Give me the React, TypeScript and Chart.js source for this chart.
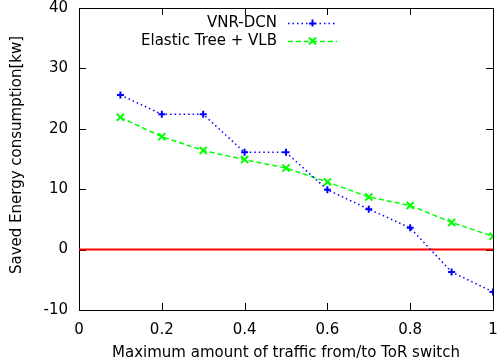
import React, { useEffect, useRef } from "react";
import { Chart, registerables } from "chart.js";

Chart.register(...registerables);

const xValues = [0.1, 0.2, 0.3, 0.4, 0.5, 0.6, 0.7, 0.8, 0.9, 1.0];
const vnrDcn = [25.6, 22.4, 22.4, 16.1, 16.1, 9.9, 6.7, 3.6, -3.7, -7.0];
const elasticTree = [21.9, 18.7, 16.4, 14.9, 13.5, 11.2, 8.7, 7.3, 4.5, 2.2];
const zeroLineX = [0, 1];
const zeroLineY = [0, 0];
const xTicks = [0, 0.2, 0.4, 0.6, 0.8, 1];
const yTicks = [-10, 0, 10, 20, 30, 40];
const seriesLabels = ["VNR-DCN", "Elastic Tree + VLB"];
const xTitle = "Maximum amount of traffic from/to ToR switch";
const yTitle = "Saved Energy consumption[kw]";

const FONT = "DejaVu Sans";
const FS = 15;

const framePlugin = {
  id: "gnuFrame",
  beforeDatasetsDraw(chart: any) {
    const ctx = chart.ctx;
    const { left, right, top, bottom } = chart.chartArea;
    const xs = chart.scales.x;
    const ys = chart.scales.y;
    const L = 7;
    ctx.save();
    ctx.strokeStyle = "#000";
    ctx.lineWidth = 1;
    ctx.beginPath();
    ctx.rect(Math.round(left) + 0.5, Math.round(top) + 0.5, Math.round(right - left), Math.round(bottom - top));
    for (const t of xTicks) {
      const px = Math.round(xs.getPixelForValue(t)) + 0.5;
      ctx.moveTo(px, bottom);
      ctx.lineTo(px, bottom - L);
      ctx.moveTo(px, top);
      ctx.lineTo(px, top + L);
    }
    for (const t of yTicks) {
      const py = Math.round(ys.getPixelForValue(t)) + 0.5;
      ctx.moveTo(left, py);
      ctx.lineTo(left + L, py);
      ctx.moveTo(right, py);
      ctx.lineTo(right - L, py);
    }
    ctx.stroke();
    ctx.restore();
  },
  afterDraw(chart: any) {
    const ctx = chart.ctx;
    const { left, right, top, bottom } = chart.chartArea;
    ctx.save();
    // titles
    ctx.fillStyle = "#000";
    ctx.font = `${FS}px "${FONT}"`;
    ctx.textAlign = "center";
    ctx.textBaseline = "middle";
    ctx.fillText(xTitle, (left + right) / 2, 353);
    ctx.save();
    ctx.translate(17, (top + bottom) / 2 - 4);
    ctx.rotate(-Math.PI / 2);
    ctx.fillText(yTitle, 0, 0);
    ctx.restore();

    // legend
    const rows = [23, 41];
    const textRight = 277;
    const sx0 = 288;
    const sx1 = 337;
    ctx.textAlign = "right";
    for (let i = 0; i < 2; i++) {
      const ds = chart.data.datasets[i];
      const y = rows[i];
      ctx.fillStyle = "#000";
      ctx.fillText(ds.label, textRight, y);
      ctx.save();
      ctx.strokeStyle = ds.borderColor;
      ctx.lineWidth = ds.borderWidth;
      ctx.setLineDash(ds.borderDash);
      ctx.beginPath();
      ctx.moveTo(sx0, y + 0.5);
      ctx.lineTo(sx1, y + 0.5);
      ctx.stroke();
      ctx.setLineDash([]);
      ctx.lineWidth = ds.pointBorderWidth;
      const mx = (sx0 + sx1) / 2;
      const r = ds.pointRadius;
      ctx.beginPath();
      if (ds.pointStyle === "cross") {
        ctx.moveTo(mx - r, y + 0.5);
        ctx.lineTo(mx + r, y + 0.5);
        ctx.moveTo(mx, y - r);
        ctx.lineTo(mx, y + r);
      } else {
        const d = r * Math.SQRT1_2;
        ctx.moveTo(mx - d, y - d);
        ctx.lineTo(mx + d, y + d);
        ctx.moveTo(mx - d, y + d);
        ctx.lineTo(mx + d, y - d);
      }
      ctx.stroke();
      ctx.restore();
    }
    ctx.restore();
  },
};

export default function App() {
  const ref = useRef<HTMLCanvasElement | null>(null);

  useEffect(() => {
    if (!ref.current) return;
    const chart = new Chart(ref.current, {
      type: "line",
      data: {
        datasets: [
          {
            label: seriesLabels[0],
            data: xValues.map((x, i) => ({ x, y: vnrDcn[i] })),
            borderColor: "#0000ff",
            backgroundColor: "#0000ff",
            borderWidth: 1.5,
            borderDash: [1.5, 3],
            pointStyle: "cross",
            pointRadius: 3.5,
            pointBorderWidth: 2,
            pointBorderColor: "#0000ff",
            fill: false,
            tension: 0,
          },
          {
            label: seriesLabels[1],
            data: xValues.map((x, i) => ({ x, y: elasticTree[i] })),
            borderColor: "#00ff00",
            backgroundColor: "#00ff00",
            borderWidth: 1.5,
            borderDash: [5, 3],
            pointStyle: "crossRot",
            pointRadius: 5,
            pointBorderWidth: 2,
            pointBorderColor: "#00ff00",
            fill: false,
            tension: 0,
          },
          {
            label: "",
            data: zeroLineX.map((x, i) => ({ x, y: zeroLineY[i] })),
            borderColor: "#ff0000",
            borderWidth: 2,
            pointRadius: 0,
            fill: false,
            order: 5,
          },
        ],
      },
      options: {
        responsive: false,
        animation: false,
        layout: { padding: { left: 0, right: 3, top: 8, bottom: 0 } },
        plugins: { legend: { display: false }, tooltip: { enabled: false } },
        scales: {
          x: {
            type: "linear",
            min: 0,
            max: 1,
            afterBuildTicks: (s: any) => {
              s.ticks = xTicks.map((v) => ({ value: v }));
            },
            afterFit: (s: any) => {
              s.height = 54;
              s.paddingLeft = 0;
              s.paddingRight = 0;
            },
            grid: { display: false, drawTicks: false },
            border: { display: false },
            ticks: {
              padding: 11,
              color: "#000",
              maxRotation: 0,
              font: { family: FONT, size: FS },
              callback: (v: any) => String(v),
            },
          },
          y: {
            type: "linear",
            min: -10,
            max: 40,
            afterBuildTicks: (s: any) => {
              s.ticks = yTicks.map((v) => ({ value: v }));
            },
            afterFit: (s: any) => {
              s.width = 79;
              s.paddingTop = 0;
              s.paddingBottom = 0;
            },
            grid: { display: false, drawTicks: false },
            border: { display: false },
            ticks: {
              padding: 11,
              color: "#000",
              font: { family: FONT, size: FS },
              callback: (v: any) => String(v),
            },
          },
        },
      },
      plugins: [framePlugin],
    } as any);
    return () => chart.destroy();
  }, []);

  return (
    <div style={{ position: "fixed", left: 0, top: 0, width: 500, height: 364, background: "#fff" }}>
      <canvas ref={ref} width={500} height={364} />
    </div>
  );
}
